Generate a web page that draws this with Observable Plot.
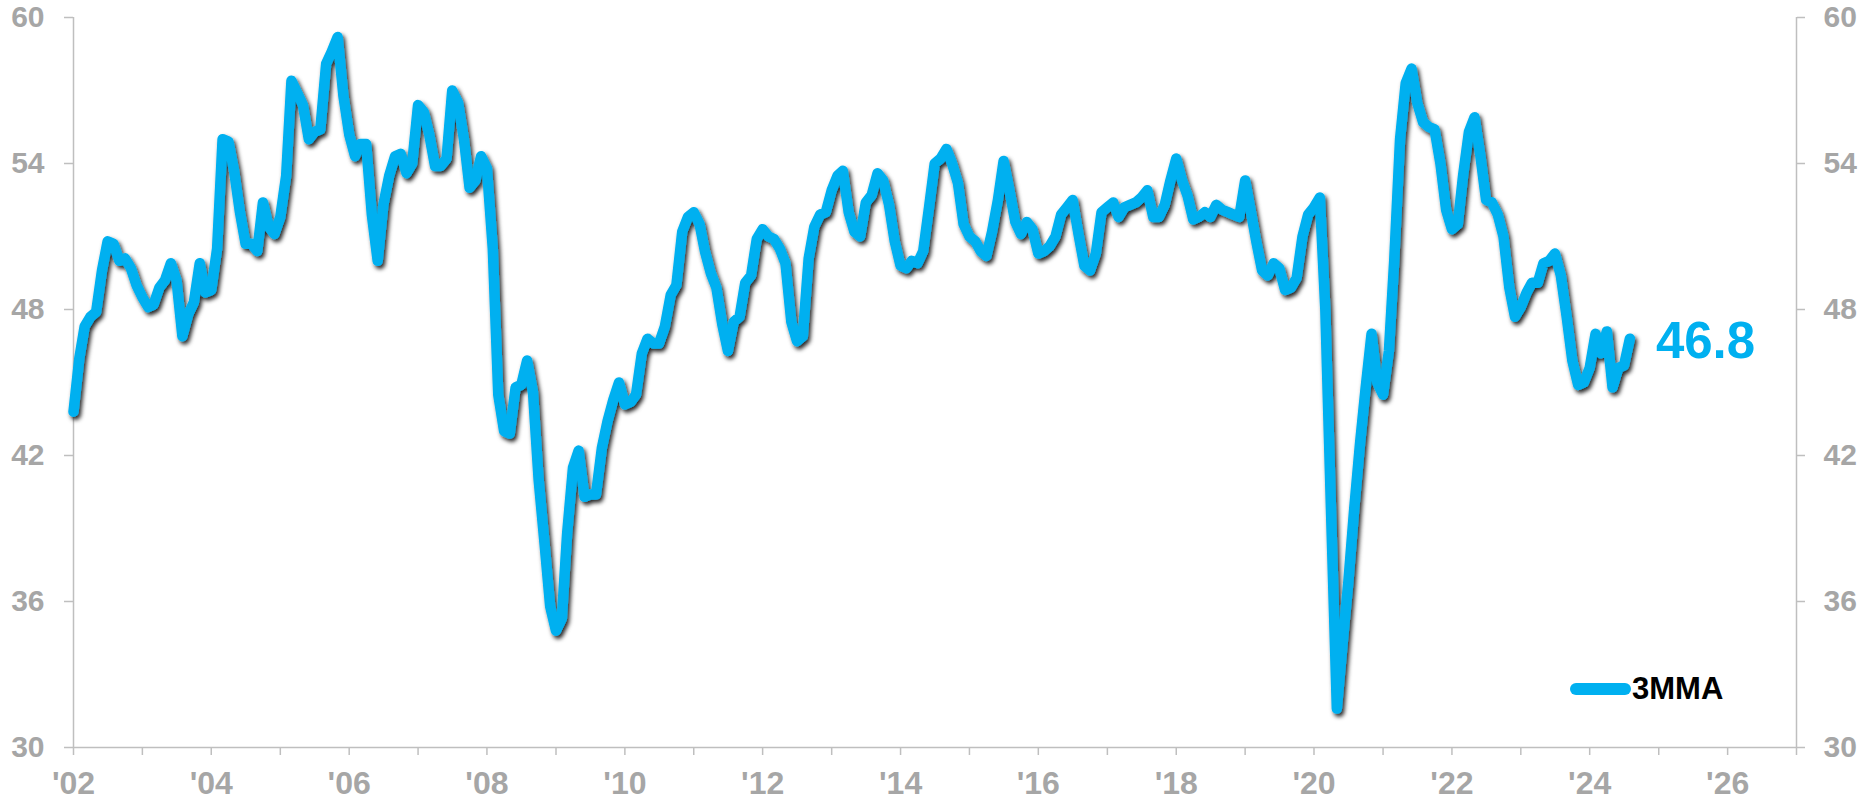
<!DOCTYPE html>
<html>
<head>
<meta charset="utf-8">
<script src="https://cdn.jsdelivr.net/npm/d3@7"></script>
<script src="https://cdn.jsdelivr.net/npm/@observablehq/plot@0.6"></script>
<style>
  html, body { margin: 0; padding: 0; background: #ffffff; }
  #chart {
    position: relative;
    width: 1869px;
    height: 800px;
    font-family: "Liberation Sans", Arial, Helvetica, sans-serif;
  }
  #chart svg g[aria-label$="tick label"] text { font-weight: bold; }
  .legend {
    position: absolute;
    left: 1570px;
    top: 672px;
    height: 34px;
    display: flex;
    align-items: center;
  }
  .legend .swatch {
    width: 61px;
    height: 12px;
    border-radius: 6px;
    background: #00B0F0;
  }
  .legend .name {
    margin-left: 1px;
    font: bold 31px "Liberation Sans", Arial, sans-serif;
    color: #000000;
    line-height: 34px;
  }
</style>
</head>
<body>
<div id="chart"></div>
<script>
// Monthly series, three-month moving average, Jan 2002 through Aug 2024
const seriesName = "3MMA";
const firstYear = 2002;
const values = [
  43.8, 46.0, 47.3, 47.7, 47.9, 49.6, 50.8, 50.7, 50.0, 50.1, 49.7, 49.0,
  48.5, 48.1, 48.2, 48.9, 49.2, 49.9, 49.2, 46.9, 47.8, 48.3, 49.9, 48.7,
  48.8, 50.5, 55.0, 54.9, 53.7, 52.0, 50.7, 50.7, 50.4, 52.4, 51.4, 51.1,
  51.8, 53.5, 57.4, 56.9, 56.4, 55.0, 55.3, 55.4, 58.1, 58.6, 59.2, 56.8,
  55.2, 54.3, 54.8, 54.8, 51.9, 50.0, 52.3, 53.5, 54.3, 54.4, 53.6, 54.0,
  56.4, 56.1, 55.2, 53.9, 53.9, 54.2, 57.0, 56.5, 55.0, 53.0, 53.3, 54.3,
  53.8, 50.5, 44.5, 43.0, 42.9, 44.8, 44.9, 45.9, 44.6, 41.0, 38.4, 35.8,
  34.8, 35.3, 38.8, 41.5, 42.2, 40.3, 40.4, 40.4, 42.3, 43.4, 44.3, 45.0,
  44.1, 44.2, 44.5, 46.2, 46.8, 46.6, 46.6, 47.3, 48.6, 49.0, 51.2, 51.8,
  52.0, 51.5, 50.4, 49.5, 48.9, 47.4, 46.3, 47.5, 47.7, 49.1, 49.4, 50.9,
  51.3, 51.0, 50.9, 50.5, 49.9, 47.5, 46.7, 46.9, 50.1, 51.4, 51.9, 52.0,
  52.9, 53.5, 53.7, 52.0, 51.2, 51.0, 52.4, 52.7, 53.6, 53.3, 52.3, 50.8,
  49.8, 49.7, 50.0, 49.9, 50.4, 52.2, 54.0, 54.2, 54.6, 54.0, 53.2, 51.5,
  51.0, 50.8, 50.4, 50.2, 51.2, 52.5, 54.1, 52.9, 51.6, 51.1, 51.6, 51.3,
  50.3, 50.4, 50.6, 51.0, 51.9, 52.2, 52.5, 51.1, 49.8, 49.6, 50.3, 52.0,
  52.2, 52.4, 51.8, 52.2, 52.3, 52.4, 52.6, 52.9, 51.8, 51.8, 52.3, 53.3,
  54.2, 53.3, 52.7, 51.7, 51.8, 52.0, 51.8, 52.3, 52.1, 52.0, 51.9, 51.8,
  53.3, 52.0, 50.8, 49.6, 49.4, 49.9, 49.7, 48.8, 48.9, 49.3, 51.0, 51.9,
  52.2, 52.6, 48.0, 39.5, 31.6, 34.3, 36.8, 39.8, 42.5, 44.8, 47.0, 45.0,
  44.5, 46.3, 50.0, 55.0, 57.3, 57.9, 56.5, 55.7, 55.5, 55.4, 54.0, 52.1,
  51.3, 51.5, 53.5, 55.3, 55.9, 54.3, 52.5, 52.4, 51.9, 51.0, 48.9, 47.7,
  48.1, 48.7, 49.1, 49.1, 49.9, 50.0, 50.3, 49.4, 47.7, 45.9, 44.9, 45.0,
  45.6, 47.0, 46.2, 47.1, 44.8, 45.6, 45.7, 46.8
];

// Axis ticks
const yTicks = [30, 36, 42, 48, 54, 60];
const xStart = new Date(Date.UTC(2002, 0, 1));
const xEnd = new Date(Date.UTC(2027, 0, 1));
const xTicks = d3.utcYears(xStart, new Date(Date.UTC(2027, 0, 2)));
const yearLabel = d => {
  const y = d.getUTCFullYear();
  return y % 2 === 0 && y < 2027 ? "'" + String(y).slice(2) : "";
};

const lineColor = "#00B0F0";
const axisColor = "#BFBFBF";
const labelColor = "#A6A6A6";

const data = values.map((v, i) => ({
  date: new Date(Date.UTC(firstYear, i, 1)),
  value: v
}));
const latest = data[data.length - 1];

const chart = Plot.plot({
  width: 1869,
  height: 800,
  marginLeft: 73,
  marginRight: 73,
  marginTop: 17,
  marginBottom: 53,
  style: {
    fontFamily: "'Liberation Sans', Arial, Helvetica, sans-serif",
    background: "#ffffff",
    overflow: "visible"
  },
  x: {type: "utc", domain: [xStart, xEnd], label: null},
  y: {domain: [30, 60], label: null},
  marks: [
    // frame: bottom, left and right axis lines
    Plot.ruleY([yTicks[0]], {stroke: axisColor, strokeWidth: 1.5}),
    Plot.ruleX([xStart, xEnd], {stroke: axisColor, strokeWidth: 1.5}),
    Plot.axisY(yTicks, {
      anchor: "left", tickSize: 9, tickPadding: 20, label: null,
      stroke: axisColor, strokeWidth: 1.5, fill: labelColor,
      fontSize: 30, fontWeight: "bold"
    }),
    Plot.axisY(yTicks, {
      anchor: "right", tickSize: 8, tickPadding: 19, label: null,
      stroke: axisColor, strokeWidth: 1.5, fill: labelColor,
      fontSize: 30, fontWeight: "bold"
    }),
    Plot.axisX(xTicks, {
      anchor: "bottom", tickSize: 8, tickPadding: 16, label: null,
      tickFormat: yearLabel,
      stroke: axisColor, strokeWidth: 1.5, fill: labelColor,
      fontSize: 32, fontWeight: "bold"
    }),
    Plot.lineY(data, {
      x: "date", y: "value",
      stroke: lineColor, strokeWidth: 10.5,
      strokeLinejoin: "round", strokeLinecap: "round"
    }),
    Plot.text([latest], {
      x: "date", y: "value",
      text: d => d.value.toFixed(1),
      dx: 26, dy: 3, textAnchor: "start",
      fill: lineColor, fontSize: 51, fontWeight: "bold"
    })
  ]
});

// soft dark shadow under the series line
const svg = d3.select(chart);
const defs = svg.insert("defs", ":first-child");
defs.append("filter")
    .attr("id", "line-shadow")
    .attr("x", "-5%").attr("y", "-5%")
    .attr("width", "110%").attr("height", "110%")
  .append("feDropShadow")
    .attr("dx", 2.2).attr("dy", 3)
    .attr("stdDeviation", 1.9)
    .attr("flood-color", "#000000")
    .attr("flood-opacity", 0.85);
svg.select('g[aria-label="line"]').attr("filter", "url(#line-shadow)");

const root = document.getElementById("chart");
root.appendChild(chart);

// legend
const legend = document.createElement("div");
legend.className = "legend";
const swatch = document.createElement("div");
swatch.className = "swatch";
const name = document.createElement("span");
name.className = "name";
name.textContent = seriesName;
legend.appendChild(swatch);
legend.appendChild(name);
root.appendChild(legend);
</script>
</body>
</html>
